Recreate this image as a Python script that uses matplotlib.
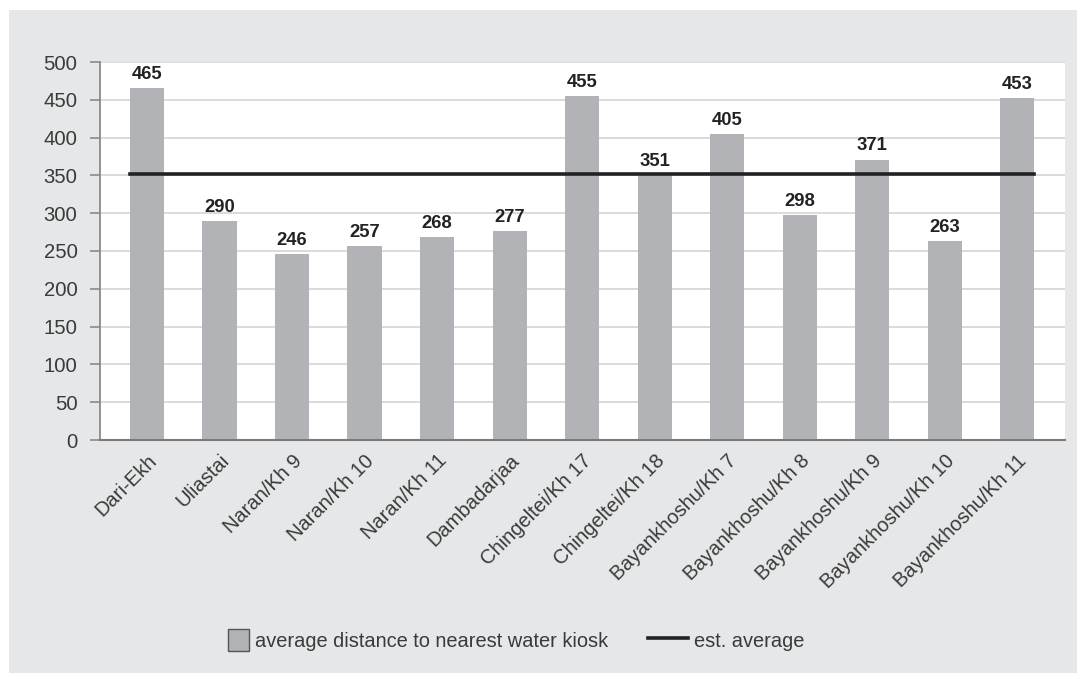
import numpy as np
import matplotlib
matplotlib.use('Agg')
import matplotlib.pyplot as plt
from matplotlib.patches import Rectangle
from matplotlib.legend_handler import HandlerPatch

plt.rcParams['font.family'] = ['Liberation Sans', 'DejaVu Sans']

# distances per kiosk area (m)
sites = ['Dari-Ekh', 'Uliastai', 'Naran/Kh 9', 'Naran/Kh 10', 'Naran/Kh 11', 'Dambadarjaa',
         'Chingeltei/Kh 17', 'Chingeltei/Kh 18', 'Bayankhoshu/Kh 7', 'Bayankhoshu/Kh 8',
         'Bayankhoshu/Kh 9', 'Bayankhoshu/Kh 10', 'Bayankhoshu/Kh 11']
distance = [465, 290, 246, 257, 268, 277, 455, 351, 405, 298, 371, 263, 453]
est_average = 352
y_ticks = [0, 50, 100, 150, 200, 250, 300, 350, 400, 450, 500]

bar_col = '#b1b3b6'
bg_col = '#e6e7e8'
txt_col = '#3a3a3a'

fig = plt.figure(figsize=(10.77, 6.73), dpi=100, facecolor='white')
# grey panel behind everything
fig.patches.append(Rectangle((9/1077, 0), 1 - 9/1077, 663/673, transform=fig.transFigure,
                             facecolor=bg_col, edgecolor='none', zorder=-10))

ax = fig.add_axes([100/1077, 1 - 440/673, 965/1077, 378/673])
ax.set_facecolor('white')

x = np.arange(len(sites))
w = 0.47
ax.bar(x, distance, width=w, color=bar_col, zorder=2)
line, = ax.plot([x[0] - w/2, x[-1] + w/2], [est_average, est_average],
                color='#222222', lw=2.6, zorder=3, label='est. average')

for xi, v in zip(x, distance):
    ax.annotate(str(v), (xi, v), xytext=(0, 6.5), textcoords='offset points',
                ha='center', va='baseline', fontsize=13.3, fontweight='bold', color='#222222')

ax.set_xlim(-0.648, 12.66)
ax.set_ylim(0, 500)
ax.set_yticks(y_ticks)
ax.yaxis.grid(True, color='#d4d4d4', lw=1.2)
ax.set_axisbelow(True)

for s in ['top', 'right']:
    ax.spines[s].set_visible(False)
ax.spines['left'].set_color('#8a8a8a')
ax.spines['left'].set_linewidth(1.3)
ax.spines['bottom'].set_color('#7a7a7a')
ax.spines['bottom'].set_linewidth(1.5)

ax.tick_params(axis='y', length=7.2, width=1.2, color='#8a8a8a', labelsize=14.6,
               labelcolor=txt_col, pad=9)
ax.tick_params(axis='x', length=0, labelsize=14.5, labelcolor=txt_col, pad=8)
ax.set_xticks(x)
ax.set_xticklabels(sites, rotation=45, ha='right', va='top', rotation_mode='anchor')


def square_patch(legend, orig_handle, xdescent, ydescent, width, height, fontsize):
    return Rectangle((-xdescent + width - height, -ydescent), height, height)


bar_key = Rectangle((0, 0), 1, 1, facecolor=bar_col, edgecolor='#555555', lw=1.0,
                    label='average distance to nearest water kiosk')
leg = fig.legend(handles=[bar_key, line], loc='center', bbox_to_anchor=(0.4708, 0.049), ncol=2,
                 frameon=False, fontsize=14.4, handlelength=2.0, handleheight=1.25,
                 handletextpad=0.3, columnspacing=2.0,
                 handler_map={bar_key: HandlerPatch(patch_func=square_patch)})
for t in leg.get_texts():
    t.set_color(txt_col)

fig.savefig('out.png', dpi=100, facecolor=fig.get_facecolor())
